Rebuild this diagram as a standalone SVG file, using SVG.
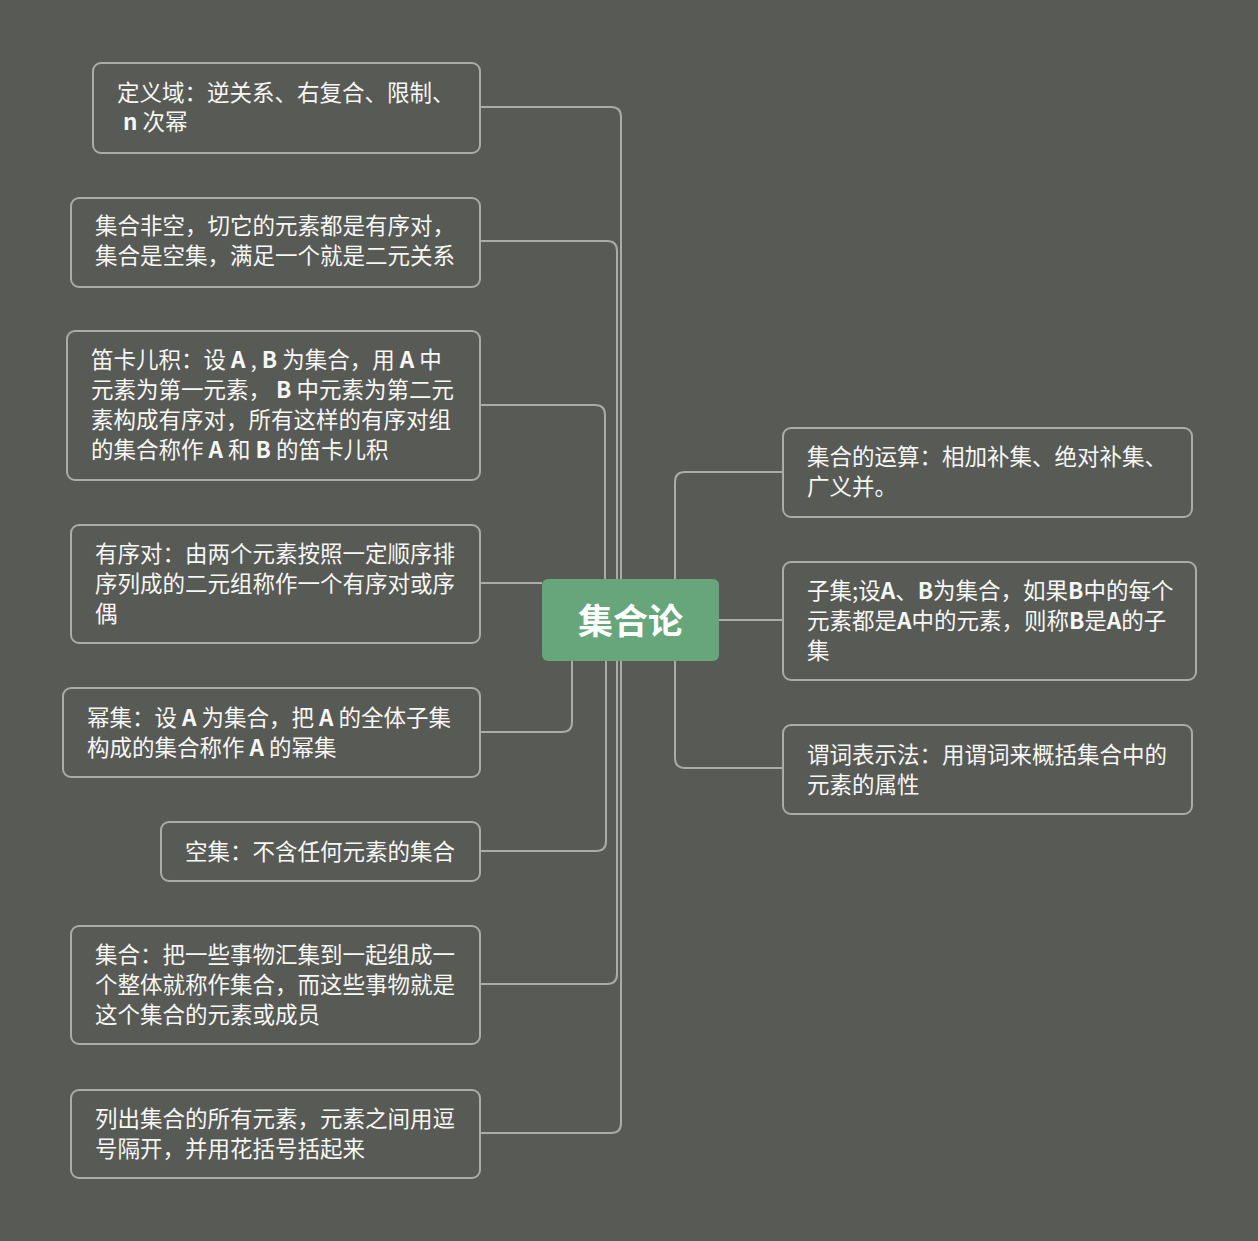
<svg xmlns="http://www.w3.org/2000/svg" width="1258" height="1241" viewBox="0 0 1258 1241">
<style>
.bg{fill:#585a56}
.box{fill:#585a56;stroke:#abaca8;stroke-width:2}
.t{font-family:"Noto Sans CJK SC","Noto Sans",sans-serif;font-size:22.5px;fill:#f7f7f5}
.b{font-weight:bold}
.c{fill:none;stroke:#abaca8;stroke-width:2}
.root{fill:#67a67a}
.rt{font-family:"Noto Sans CJK SC","Noto Sans",sans-serif;font-size:35px;font-weight:bold;fill:#ffffff}
</style>
<rect class="bg" x="0" y="0" width="1258" height="1241"/>
<g id="connectors">
<path class="c" d="M621,620 V117 Q621,107 611,107 H480"/>
<path class="c" d="M617,620 V251 Q617,241 607,241 H480"/>
<path class="c" d="M605,620 V415 Q605,405 595,405 H480"/>
<path class="c" d="M542,583 H480"/>
<path class="c" d="M572,661 V722 Q572,732 562,732 H480"/>
<path class="c" d="M606,620 V841 Q606,851 596,851 H480"/>
<path class="c" d="M617,620 V974 Q617,984 607,984 H480"/>
<path class="c" d="M621,620 V1123 Q621,1133 611,1133 H480"/>
<path class="c" d="M675,620 V482 Q675,472 685,472 H783"/>
<path class="c" d="M719,620 H783"/>
<path class="c" d="M675,620 V758 Q675,768 685,768 H783"/>
</g>
<g id="n1"><rect class="box" x="93" y="63" width="387" height="90" rx="8"/>
<text class="t" x="117" y="101">定义域：逆关系、右复合、限制、</text>
<text class="t" x="123" y="130"><tspan class="b">n</tspan> 次幂</text></g>
<g id="n2"><rect class="box" x="71" y="198" width="409" height="89" rx="8"/>
<text class="t" x="95" y="234">集合非空，切它的元素都是有序对，</text>
<text class="t" x="95" y="264">集合是空集，满足一个就是二元关系</text></g>
<g id="n3"><rect class="box" x="67" y="331" width="413" height="149" rx="8"/>
<text class="t" x="91" y="368">笛卡儿积：设 <tspan class="b">A</tspan> , <tspan class="b">B</tspan> 为集合，用 <tspan class="b">A</tspan> 中</text>
<text class="t" x="91" y="398">元素为第一元素， <tspan class="b">B</tspan> 中元素为第二元</text>
<text class="t" x="91" y="428">素构成有序对，所有这样的有序对组</text>
<text class="t" x="91" y="458">的集合称作 <tspan class="b">A</tspan> 和 <tspan class="b">B</tspan> 的笛卡儿积</text></g>
<g id="n4"><rect class="box" x="71" y="525" width="409" height="118" rx="8"/>
<text class="t" x="95" y="562">有序对：由两个元素按照一定顺序排</text>
<text class="t" x="95" y="592">序列成的二元组称作一个有序对或序</text>
<text class="t" x="95" y="622">偶</text></g>
<g id="n5"><rect class="box" x="63" y="688" width="417" height="89" rx="8"/>
<text class="t" x="87" y="726">幂集：设 <tspan class="b">A</tspan> 为集合，把 <tspan class="b">A</tspan> 的全体子集</text>
<text class="t" x="87" y="756">构成的集合称作 <tspan class="b">A</tspan> 的幂集</text></g>
<g id="n6"><rect class="box" x="161" y="822" width="319" height="59" rx="8"/>
<text class="t" x="185" y="860">空集：不含任何元素的集合</text></g>
<g id="n7"><rect class="box" x="71" y="926" width="409" height="118" rx="8"/>
<text class="t" x="95" y="963">集合：把一些事物汇集到一起组成一</text>
<text class="t" x="95" y="993">个整体就称作集合，而这些事物就是</text>
<text class="t" x="95" y="1023">这个集合的元素或成员</text></g>
<g id="n8"><rect class="box" x="71" y="1090" width="409" height="88" rx="8"/>
<text class="t" x="95" y="1127">列出集合的所有元素，元素之间用逗</text>
<text class="t" x="95" y="1157">号隔开，并用花括号括起来</text></g>
<g id="r1"><rect class="box" x="783" y="428" width="409" height="89" rx="8"/>
<text class="t" x="807" y="465">集合的运算：相加补集、绝对补集、</text>
<text class="t" x="807" y="495">广义并。</text></g>
<g id="r2"><rect class="box" x="783" y="562" width="413" height="118" rx="8"/>
<text class="t" x="807" y="599">子集;设<tspan class="b">A</tspan>、<tspan class="b">B</tspan>为集合，如果<tspan class="b">B</tspan>中的每个</text>
<text class="t" x="807" y="629">元素都是<tspan class="b">A</tspan>中的元素，则称<tspan class="b">B</tspan>是<tspan class="b">A</tspan>的子</text>
<text class="t" x="807" y="659">集</text></g>
<g id="r3"><rect class="box" x="783" y="725" width="409" height="89" rx="8"/>
<text class="t" x="807" y="763">谓词表示法：用谓词来概括集合中的</text>
<text class="t" x="807" y="793">元素的属性</text></g>
<g id="root"><rect class="root" x="542" y="579" width="177" height="82" rx="6"/>
<text class="rt" x="630.5" y="634" text-anchor="middle">集合论</text></g>
</svg>
